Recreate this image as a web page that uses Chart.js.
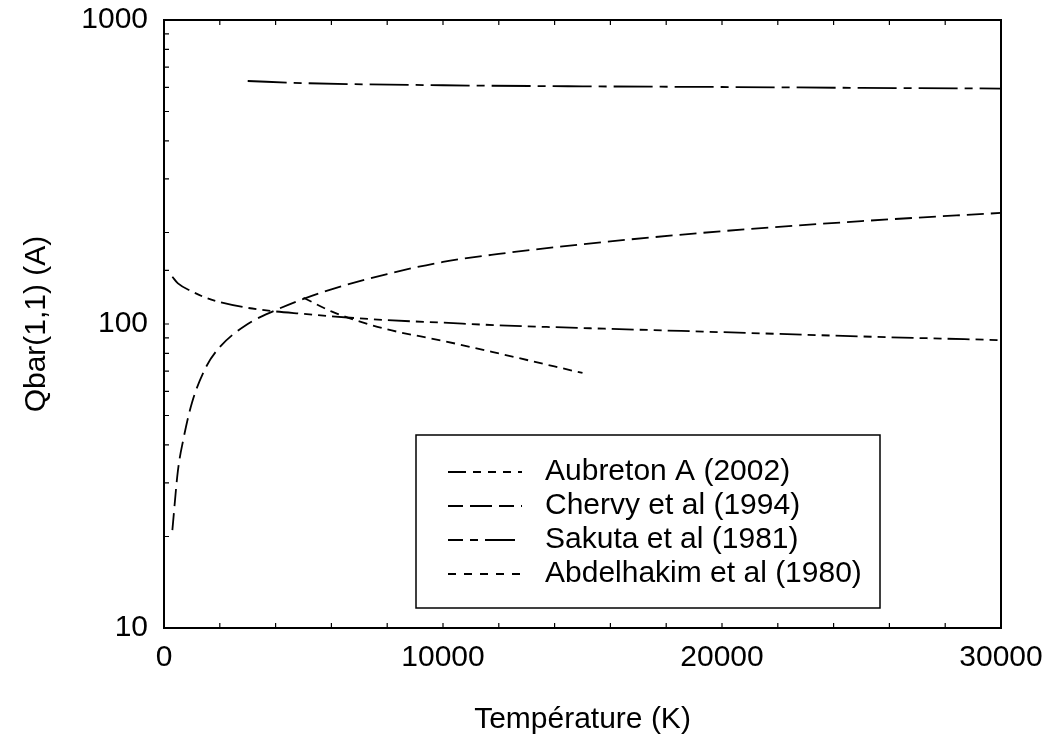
<!DOCTYPE html>
<html>
<head>
<meta charset="utf-8">
<script src="https://cdn.jsdelivr.net/npm/chart.js@4.4.0/dist/chart.umd.min.js"></script>
<style>
  html, body { margin: 0; background: #fff; }
  #wrap { width: 1050px; height: 740px; }
</style>
</head>
<body>
<div id="wrap"><canvas id="c"></canvas></div>
<script>
// ── Data (T in K, Qbar in Å) ──
const aubretonT = [300, 500, 1000, 1500, 2000, 3000, 4000, 5000, 6000, 8000, 10000, 12000, 15000, 20000, 25000, 30000];
const aubretonQ = [143, 136, 128, 122, 118, 113, 110, 108, 106, 103, 101, 99, 97, 94, 91, 88.5];

const chervyT = [300, 500, 700, 1000, 1500, 2000, 3000, 4000, 5000, 6000, 8000, 10000, 12000, 15000, 20000, 25000, 30000];
const chervyQ = [21, 33, 42, 55, 72, 84, 100, 111, 121, 130, 146, 160, 170, 183, 202, 218, 232];

const sakutaT = [3000, 5000, 10000, 15000, 20000, 25000, 30000];
const sakutaQ = [630, 620, 610, 605, 602, 598, 595];

const abdelT = [5000, 6000, 7000, 8000, 10000, 12000, 15000];
const abdelQ = [122, 110, 102, 96, 88, 80, 69];

const xLabels = [0, 10000, 20000, 30000];
const yLabels = [10, 100, 1000];

const pts = (xs, ys) => xs.map((x, i) => ({ x: x, y: ys[i] }));

Chart.defaults.font.family = "'Liberation Sans', Arial, sans-serif";
Chart.defaults.font.size = 30;
Chart.defaults.color = '#000';

function line(label, xs, ys, dash) {
    return {
        label: label, data: pts(xs, ys),
        borderColor: '#000', borderWidth: 1.8, borderDash: dash,
        pointRadius: 0, fill: false, cubicInterpolationMode: 'monotone'
    };
}

// ── Frame, inward ticks and boxed legend ──
const frame = {
    id: 'frame',
    afterDraw(chart) {
        const { ctx, chartArea: a, scales: { x, y } } = chart;
        ctx.save();
        ctx.strokeStyle = '#000';
        ctx.lineWidth = 1.2;
        ctx.beginPath();
        x.ticks.forEach(t => {
            const px = x.getPixelForValue(t.value);
            ctx.moveTo(px, a.bottom); ctx.lineTo(px, a.bottom - 5);
            ctx.moveTo(px, a.top); ctx.lineTo(px, a.top + 5);
        });
        y.ticks.forEach(t => {
            const py = y.getPixelForValue(t.value);
            ctx.moveTo(a.left, py); ctx.lineTo(a.left + 5, py);
        });
        ctx.stroke();
        ctx.lineWidth = 2;
        ctx.strokeRect(a.left, a.top, a.right - a.left, a.bottom - a.top);

        // legend box
        const bx = 416, by = 435, bw = 464, bh = 173;
        ctx.lineWidth = 1.5;
        ctx.fillStyle = '#fff';
        ctx.fillRect(bx, by, bw, bh);
        ctx.strokeRect(bx, by, bw, bh);
        ctx.font = "30px 'Liberation Sans', Arial, sans-serif";
        ctx.textBaseline = 'middle';
        ctx.fillStyle = '#000';
        chart.data.datasets.forEach((ds, i) => {
            const ly = 472 + i * 34;
            ctx.lineWidth = 1.8;
            ctx.setLineDash(ds.legendDash || ds.borderDash || []);
            ctx.beginPath(); ctx.moveTo(448, ly); ctx.lineTo(522, ly); ctx.stroke();
            ctx.setLineDash([]);
            ctx.fillText(ds.label, 545, ly);
        });
        ctx.restore();
    }
};

const ds = [
    line('Aubreton A (2002)', aubretonT, aubretonQ, [22, 6, 8, 6, 8, 6]),
    line('Chervy et al (1994)', chervyT, chervyQ, [17, 7]),
    line('Sakuta et al (1981)', sakutaT, sakutaQ, [39, 7, 8, 7]),
    line('Abdelhakim et al (1980)', abdelT, abdelQ, [9, 6])
];
ds[0].legendDash = [18, 7, 8, 7, 8, 7, 8, 7];
ds[1].legendDash = [15, 7, 22, 7, 15, 7];
ds[2].legendDash = [15, 7, 8, 7, 30, 7];
ds[3].legendDash = [8, 8];

new Chart(document.getElementById('c'), {
    type: 'line',
    data: { datasets: ds },
    options: {
        responsive: true, maintainAspectRatio: false, animation: false,
        layout: { padding: { top: 20, right: 49, left: 0, bottom: 0 } },
        plugins: { legend: { display: false }, tooltip: { enabled: false } },
        scales: {
            x: {
                type: 'linear', min: 0, max: 30000,
                afterFit: s => { s.height = 112; s.paddingLeft = 0; s.paddingRight = 0; },
                grid: { display: false, drawTicks: false },
                border: { display: false },
                ticks: {
                    stepSize: 2000, autoSkip: false, maxRotation: 0, padding: 12,
                    callback: v => xLabels.includes(v) ? String(v) : ''
                },
                title: { display: true, text: 'Température (K)', padding: { top: 0, bottom: 2 } }
            },
            y: {
                type: 'logarithmic', min: 10, max: 1000,
                afterFit: s => { s.width = 164; s.paddingTop = 0; s.paddingBottom = 0; },
                grid: { display: false, drawTicks: false },
                border: { display: false },
                ticks: {
                    autoSkip: false, padding: 16,
                    callback: v => yLabels.includes(v) ? String(v) : ''
                },
                title: { display: true, text: 'Qbar(1,1) (A)', padding: { top: 19, bottom: 15 } }
            }
        }
    },
    plugins: [frame]
});
</script>
</body>
</html>
